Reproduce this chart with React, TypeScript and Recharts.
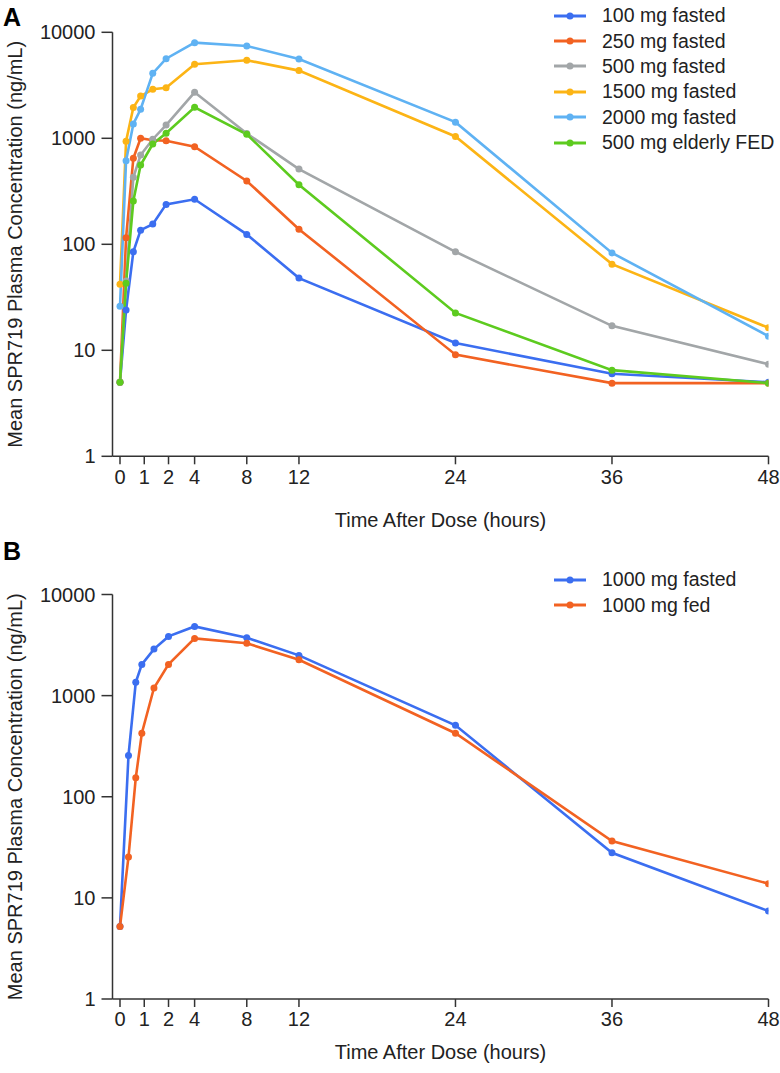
import React from "react";
import { LineChart, Line, XAxis, YAxis, Legend, Label } from "recharts";

// sampling times (hours)
const hoursA = [0, 0.25, 0.55, 0.85, 1.35, 1.9, 4, 8, 12, 24, 36, 48];
const fasted100 = [5, 24, 85, 136, 155, 238, 266, 124, 48, 11.7, 6, 5];
const fasted250 = [5, 115, 648, 1000, 960, 949, 833, 396, 139, 9.1, 4.9, 4.9];
const fasted500 = [5, 45, 429, 695, 980, 1334, 2716, 1110, 513, 85, 17, 7.4];
const fasted1500 = [42, 940, 1950, 2500, 2900, 3000, 5000, 5450, 4350, 1040, 65, 16.3];
const fasted2000 = [26, 615, 1365, 1880, 4100, 5640, 7980, 7430, 5600, 1420, 83, 13.6];
const elderlyFed500 = [5, 43, 256, 560, 884, 1114, 1960, 1090, 365, 22.5, 6.5, 4.9];

const hoursB = [0, 0.35, 0.65, 0.9, 1.4, 2, 4, 8, 12, 24, 36, 48];
const fasted1000 = [5.2, 256, 1355, 2037, 2886, 3852, 4834, 3740, 2500, 509, 27.9, 7.4];
const fed1000 = [5.2, 25.4, 154, 425, 1190, 2037, 3680, 3290, 2266, 425, 36.5, 13.8];

const xTicks = [0, 1, 2, 4, 8, 12, 24, 36, 48];
const yTicks = [1, 10, 100, 1000, 10000];

const seriesA = [
  { key: "s100", name: "100 mg fasted", color: "#3b6ef0", values: fasted100 },
  { key: "s250", name: "250 mg fasted", color: "#f26222", values: fasted250 },
  { key: "s500", name: "500 mg fasted", color: "#a2a6a8", values: fasted500 },
  { key: "s1500", name: "1500 mg fasted", color: "#fcb415", values: fasted1500 },
  { key: "s2000", name: "2000 mg fasted", color: "#5fb2f3", values: fasted2000 },
  { key: "sFed", name: "500 mg elderly FED", color: "#5dcb1f", values: elderlyFed500 },
];

const seriesB = [
  { key: "fasted", name: "1000 mg fasted", color: "#3b6ef0", values: fasted1000 },
  { key: "fed", name: "1000 mg fed", color: "#f26222", values: fed1000 },
];

// the original axis spreads out the first 2 hours
const STRETCH = 1.86;
const toAxis = (h: number) => (h <= 2 ? h * STRETCH : 2 * STRETCH + (h - 2));

const FONT = "'Liberation Sans', Arial, sans-serif";
const AXIS = "#333";

function buildRows(hours: number[], series: typeof seriesA) {
  return hours.map((h, i) => {
    const row: Record<string, number> = { h };
    series.forEach((s) => (row[s.key] = s.values[i]));
    return row;
  });
}

function legendContent(series: typeof seriesA) {
  return () => (
    <div style={{ fontFamily: FONT, fontSize: 19.5, color: "#222" }}>
      {series.map((s) => (
        <div key={s.key} style={{ display: "flex", alignItems: "center", height: 25.4 }}>
          <svg width={36} height={10}>
            <line x1={2} y1={5} x2={34} y2={5} stroke={s.color} strokeWidth={3} />
            <circle cx={18} cy={5} r={3.5} fill={s.color} />
          </svg>
          <span style={{ marginLeft: 14, whiteSpace: "nowrap" }}>{s.name}</span>
        </div>
      ))}
    </div>
  );
}

function Panel({
  series, hours, height, top, axisHeight, legendTop, titleGap,
}: {
  series: typeof seriesA; hours: number[]; height: number; top: number;
  axisHeight: number; legendTop: number; titleGap: number;
}) {
  const rows = buildRows(hours, series);
  const tick = { fontSize: 20, fill: "#222", fontFamily: FONT };
  return (
    <LineChart width={780} height={height} data={rows} margin={{ top, right: 11.5, left: 0, bottom: 0 }}>
      <XAxis
        type="number"
        dataKey={(r: Record<string, number>) => toAxis(r.h)}
        domain={[-0.575, toAxis(48)]}
        ticks={xTicks.map(toAxis)}
        interval={0}
        tickFormatter={(v: number) => {
          const h = xTicks.find((t) => Math.abs(toAxis(t) - v) < 1e-6);
          return h === undefined ? "" : String(h);
        }}
        tick={tick}
        tickSize={8}
        tickMargin={5}
        height={axisHeight}
        stroke={AXIS}
        strokeWidth={1.5}
        allowDataOverflow
      >
        <Label
          content={(p: any) => {
            const vb = p.viewBox || {};
            return (
              <text x={vb.x + vb.width / 2} y={vb.y + titleGap} textAnchor="middle" dominantBaseline="central"
                fontSize={20} fontFamily={FONT} fill="#222">
                Time After Dose (hours)
              </text>
            );
          }}
        />
      </XAxis>
      <YAxis
        type="number"
        scale="log"
        domain={[1, 10000]}
        ticks={yTicks}
        interval={0}
        allowDataOverflow
        width={112.5}
        tick={tick}
        tickSize={11}
        tickMargin={6}
        stroke={AXIS}
        strokeWidth={1.5}
      >
        <Label
          content={(p: any) => {
            const vb = p.viewBox || {};
            const cy = vb.y + vb.height / 2;
            return (
              <text x={15} y={cy} transform={`rotate(-90, 15, ${cy})`} textAnchor="middle" dominantBaseline="central"
                fontSize={20} fontFamily={FONT} fill="#222">
                Mean SPR719 Plasma Concentration (ng/mL)
              </text>
            );
          }}
        />
      </YAxis>
      <Legend
        layout="vertical"
        align="center"
        verticalAlign="middle"
        wrapperStyle={{ top: legendTop, left: 552, width: 228 }}
        content={legendContent(series)}
      />
      {series.map((s) => (
        <Line
          key={s.key}
          type="linear"
          dataKey={s.key}
          name={s.name}
          stroke={s.color}
          strokeWidth={2.6}
          dot={{ r: 3.5, fill: s.color, stroke: s.color, strokeWidth: 0 }}
          activeDot={false}
          isAnimationActive={false}
        />
      ))}
    </LineChart>
  );
}

export default function App() {
  const letter = { position: "absolute" as const, left: 3, fontFamily: FONT, fontWeight: 700, fontSize: 25, lineHeight: "25px" };
  return (
    <div style={{ position: "absolute", left: 0, top: 0, width: 780, height: 1073, background: "#fff" }}>
      <div style={{ ...letter, top: 5 }}>A</div>
      <Panel series={seriesA} hours={hoursA} height={545} top={32.3} axisHeight={88.7}
        legendTop={3} titleGap={64} />
      <div style={{ ...letter, top: 539 }}>B</div>
      <Panel series={seriesB} hours={hoursB} height={528} top={49.5} axisHeight={74}
        legendTop={22.3} titleGap={53} />
    </div>
  );
}
